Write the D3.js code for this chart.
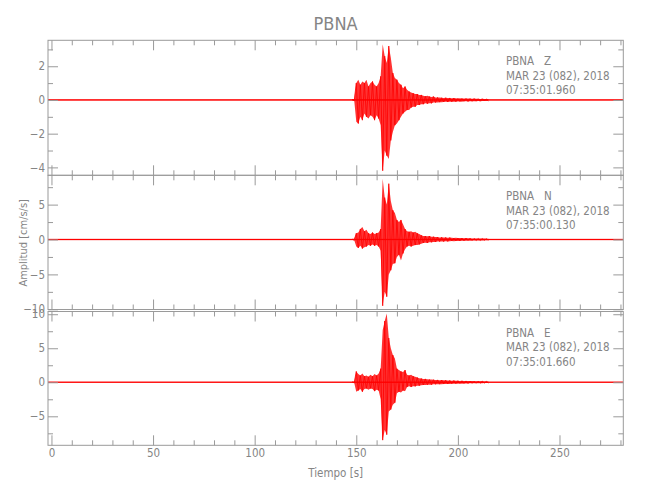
<!DOCTYPE html>
<html><head><meta charset="utf-8">
<script src="https://cdn.jsdelivr.net/npm/d3@7"></script>
<style>
body{margin:0;background:#fff;}
svg text{font-family:"Liberation Sans Narrow","DejaVu Sans Condensed","Liberation Sans",sans-serif;fill:#858585;}
</style></head><body>
<svg id="c" width="650" height="500"></svg>
<script>
// ---------- data ----------
const station = "PBNA";
const components = ["Z", "N", "E"];
const dateLine = "MAR 23 (082), 2018";
const startTimes = ["07:35:01.960", "07:35:00.130", "07:35:01.660"];
const xTitle = "Tiempo [s]";
const yTitle = "Amplitud [cm/s/s]";
const xRange = [-1.7, 281.4];
const xTicksMajor = [0, 50, 100, 150, 200, 250];
const xTicksMinor = [10,20,30,40,60,70,80,90,110,120,130,140,160,170,180,190,210,220,230,240,260,270,280];
const yRangeZ = [-4.47, 3.54], yRangeN = [-10.03, 9.2], yRangeE = [-9.26, 10.4];
const yTicksZ = [-4, -2, 0, 2], yMinorZ = [-3, -1, 1, 3];
const yTicksN = [-10, -5, 0, 5], yMinorN = [-7.5, -2.5, 2.5, 7.5];
const yTicksE = [-5, 0, 5, 10], yMinorE = [-7.5, -2.5, 2.5, 7.5];
const noiseLevel = [0.05, 0.12, 0.12];   // background noise half-amplitude
// envelope per second, t = 148 ... 215 s
const times = d3.range(148, 216);
const maxZ = [0.04,0.05,1.0,1.2,0.9,1.1,1.0,1.2,0.8,1.0,1.1,0.9,0.8,1.0,1.4,3.3,2.6,2.2,3.2,2.5,1.6,1.3,1.2,1.0,0.9,0.7,0.8,0.6,0.5,0.45,0.4,0.35,0.35,0.3,0.3,0.25,0.22,0.25,0.2,0.18,0.2,0.15,0.15,
  0.14,0.13,0.12,0.13,0.11,0.12,0.1,0.11,0.1,0.09,0.1,0.09,0.08,0.09,0.08,0.08,0.07,0.08,0.07,0.07,0.06,0.07,0.06,0.06,0.06];
const minZ = [-0.04,-0.05,-1.3,-1.4,-1.0,-1.2,-0.8,-1.0,-1.1,-0.9,-1.0,-1.2,-0.9,-1.1,-1.5,-4.2,-3.0,-3.3,-3.5,-2.4,-1.9,-1.5,-1.4,-1.2,-1.0,-0.8,-0.7,-0.6,-0.6,-0.45,-0.4,-0.4,-0.3,-0.3,-0.25,-0.25,-0.2,-0.22,-0.2,-0.2,-0.15,-0.15,-0.15,
  -0.13,-0.14,-0.12,-0.11,-0.12,-0.1,-0.11,-0.1,-0.1,-0.09,-0.09,-0.1,-0.08,-0.08,-0.09,-0.07,-0.08,-0.07,-0.07,-0.06,-0.07,-0.06,-0.06,-0.06,-0.05];
const maxN = [0.06,0.1,0.9,1.0,1.5,1.8,1.2,1.4,0.9,0.8,1.0,0.8,0.9,1.0,1.5,8.7,6.0,5.0,8.0,5.5,4.2,3.8,2.8,2.5,2.8,2.2,1.5,1.2,1.1,1.2,1.0,1.1,0.9,0.8,0.6,0.5,0.5,0.45,0.5,0.4,0.4,0.35,0.35,
  0.3,0.32,0.28,0.3,0.25,0.27,0.25,0.22,0.24,0.2,0.22,0.2,0.18,0.2,0.17,0.18,0.16,0.15,0.16,0.14,0.15,0.13,0.14,0.12,0.12];
const minN = [-0.06,-0.1,-1.0,-1.2,-0.9,-1.3,-1.1,-1.0,-0.8,-0.9,-0.7,-0.9,-0.8,-1.0,-1.6,-9.5,-7.5,-8.2,-5.0,-4.4,-3.5,-3.4,-2.5,-2.2,-3.0,-2.0,-1.4,-1.0,-0.9,-1.0,-0.9,-0.8,-0.8,-0.7,-0.6,-0.5,-0.45,-0.5,-0.4,-0.4,-0.35,-0.35,-0.3,
  -0.3,-0.28,-0.3,-0.25,-0.27,-0.24,-0.22,-0.24,-0.2,-0.21,-0.2,-0.18,-0.19,-0.17,-0.16,-0.17,-0.15,-0.15,-0.14,-0.14,-0.13,-0.13,-0.12,-0.12,-0.11];
const maxE = [0.06,0.1,1.6,1.2,1.0,1.3,0.9,1.0,0.8,1.1,0.9,1.2,1.0,1.3,2.0,7.7,9.0,10.1,6.5,5.0,4.0,3.5,2.0,1.8,1.6,1.5,1.8,1.1,1.0,1.1,0.9,0.8,0.7,0.6,0.55,0.5,0.5,0.45,0.4,0.42,0.38,0.35,0.35,
  0.3,0.32,0.28,0.3,0.26,0.27,0.24,0.25,0.22,0.23,0.2,0.21,0.19,0.2,0.18,0.17,0.18,0.16,0.15,0.16,0.14,0.15,0.13,0.13,0.12];
const minE = [-0.06,-0.1,-1.4,-1.2,-1.0,-1.4,-1.0,-0.9,-1.1,-0.9,-1.0,-1.3,-1.1,-1.2,-2.5,-8.5,-7.0,-7.7,-4.3,-4.0,-3.3,-3.0,-1.6,-1.4,-1.5,-1.2,-1.3,-0.7,-0.6,-0.7,-0.6,-0.6,-0.5,-0.5,-0.45,-0.4,-0.4,-0.38,-0.35,-0.35,-0.3,-0.3,-0.3,
  -0.28,-0.3,-0.26,-0.27,-0.25,-0.24,-0.22,-0.23,-0.2,-0.21,-0.19,-0.2,-0.18,-0.17,-0.18,-0.16,-0.15,-0.15,-0.14,-0.14,-0.13,-0.13,-0.12,-0.12,-0.11];

// ---------- layout ----------
const W = 650, H = 500;
const L = 48, R = 623.3;
const panelBox = [[40.3, 175.3], [175.3, 309.5], [311.5, 445.3]];
const axisColor = "#9a9a9a";
const red = "#ff0000";

const panels = [
  {comp: components[0], dom: yRangeZ, major: yTicksZ, minor: yMinorZ, mx: maxZ, mn: minZ, t0: startTimes[0], noise: noiseLevel[0]},
  {comp: components[1], dom: yRangeN, major: yTicksN, minor: yMinorN, mx: maxN, mn: minN, t0: startTimes[1], noise: noiseLevel[1]},
  {comp: components[2], dom: yRangeE, major: yTicksE, minor: yMinorE, mx: maxE, mn: minE, t0: startTimes[2], noise: noiseLevel[2]}
];

const svg = d3.select("#c");
svg.append("rect").attr("width", W).attr("height", H).attr("fill", "#fff");
const x = d3.scaleLinear().domain(xRange).range([L, R]);

svg.append("text").attr("x", (L + R) / 2).attr("y", 30).attr("text-anchor", "middle")
  .style("font-size", "18px").text(station);

const defs = svg.append("defs");

panels.forEach((p, i) => {
  const [top, bot] = panelBox[i];
  const y = d3.scaleLinear().domain(p.dom).range([bot, top]);
  const g = svg.append("g");
  const cid = "clip" + i;
  defs.append("clipPath").attr("id", cid).append("rect")
    .attr("x", L).attr("y", top).attr("width", R - L).attr("height", bot - top);
  const dg = g.append("g").attr("clip-path", `url(#${cid})`);

  // background noise band
  dg.append("path")
    .datum(xRange)
    .attr("d", d3.area().x(d => x(d)).y0(y(-p.noise)).y1(y(p.noise)))
    .attr("fill", red).attr("fill-opacity", 0.6);
  dg.append("path")
    .datum(xRange)
    .attr("d", d3.line().x(d => x(d)).y(y(0)))
    .attr("stroke", red).attr("stroke-width", 1);

  const rows = times.map((t, k) => ({t, hi: p.mx[k], lo: p.mn[k], k}));
  // envelope
  dg.append("path").datum(rows)
    .attr("d", d3.area().x(d => x(d.t)).y0(d => y(d.lo)).y1(d => y(d.hi)).curve(d3.curveLinear))
    .attr("fill", red).attr("fill-opacity", 0.8);
  // oscillation trace
  dg.append("path").datum(rows)
    .attr("d", d3.line().x(d => x(d.t)).y(d => y(d.k % 2 ? d.lo : d.hi)))
    .attr("fill", "none").attr("stroke", red).attr("stroke-width", 0.8);

  // frame
  g.append("rect").attr("x", L).attr("y", top).attr("width", R - L).attr("height", bot - top)
    .attr("fill", "none").attr("stroke", axisColor).attr("stroke-width", 1);

  const style = sel => {
    sel.select(".domain").remove();
    sel.selectAll("line").attr("stroke", axisColor);
    sel.selectAll("text").attr("fill", "#858585").style("font-size", "11.5px")
      .attr("font-family", null);
  };
  // y axes
  g.append("g").attr("transform", `translate(${L},0)`)
    .call(d3.axisLeft(y).tickValues(p.major).tickSize(-10).tickSizeOuter(0).tickPadding(3))
    .call(style);
  g.append("g").attr("transform", `translate(${L},0)`)
    .call(d3.axisLeft(y).tickValues(p.minor).tickSize(-5).tickSizeOuter(0).tickFormat(""))
    .call(style);
  g.append("g").attr("transform", `translate(${R},0)`)
    .call(d3.axisRight(y).tickValues(p.major).tickSize(-10).tickSizeOuter(0).tickFormat(""))
    .call(style);
  g.append("g").attr("transform", `translate(${R},0)`)
    .call(d3.axisRight(y).tickValues(p.minor).tickSize(-5).tickSizeOuter(0).tickFormat(""))
    .call(style);
  // x axes
  g.append("g").attr("transform", `translate(0,${top})`)
    .call(d3.axisTop(x).tickValues(xTicksMajor).tickSize(-10).tickSizeOuter(0).tickFormat(""))
    .call(style);
  g.append("g").attr("transform", `translate(0,${top})`)
    .call(d3.axisTop(x).tickValues(xTicksMinor).tickSize(-5).tickSizeOuter(0).tickFormat(""))
    .call(style);
  const bAx = d3.axisBottom(x).tickValues(xTicksMajor).tickSize(-10).tickSizeOuter(0).tickPadding(4);
  if (i < 2) bAx.tickFormat("");
  g.append("g").attr("transform", `translate(0,${bot})`).call(bAx).call(style);
  g.append("g").attr("transform", `translate(0,${bot})`)
    .call(d3.axisBottom(x).tickValues(xTicksMinor).tickSize(-5).tickSizeOuter(0).tickFormat(""))
    .call(style);

  // annotation
  const ann = g.append("text").attr("x", 506).attr("y", top + 25)
    .style("font-size", "11.5px");
  ann.append("tspan").attr("x", 506).attr("dy", 0).attr("xml:space", "preserve").text(`${station}   ${p.comp}`);
  ann.append("tspan").attr("x", 506).attr("dy", 14.5).text(dateLine);
  ann.append("tspan").attr("x", 506).attr("dy", 14.5).text(p.t0);
});

svg.append("text").attr("x", (L + R) / 2).attr("y", 477).attr("text-anchor", "middle")
  .style("font-size", "11.5px").text(xTitle);
svg.append("text").attr("transform", `translate(27,${(panelBox[0][0] + panelBox[2][1]) / 2}) rotate(-90)`)
  .attr("text-anchor", "middle").style("font-size", "11px").text(yTitle);
</script>
</body></html>
